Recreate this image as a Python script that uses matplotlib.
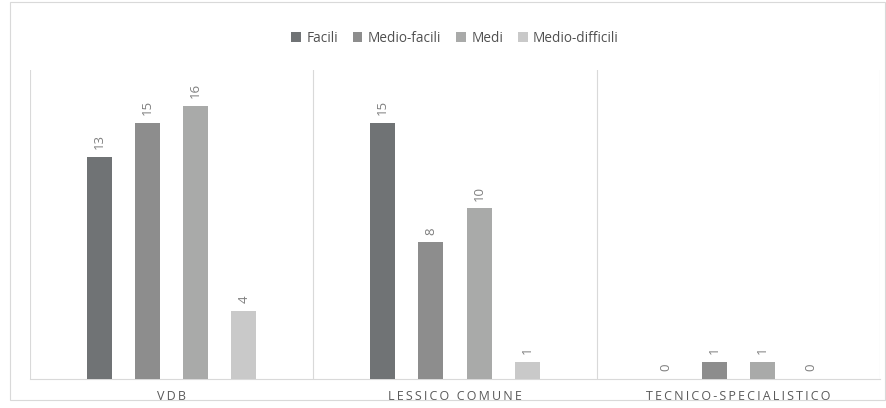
import matplotlib
matplotlib.use("Agg")
import matplotlib.pyplot as plt
import numpy as np
from matplotlib.patches import Rectangle

categories = ["VDB", "LESSICO COMUNE", "TECNICO-SPECIALISTICO"]
series = ["Facili", "Medio-facili", "Medi", "Medio-difficili"]
facili = [13, 15, 0]
medio_facili = [15, 8, 1]
medi = [16, 10, 1]
medio_difficili = [4, 1, 0]
values = [facili, medio_facili, medi, medio_difficili]
colors = ["#707375", "#8d8d8d", "#a9aaa9", "#c9c9c9"]

plt.rcParams['font.family'] = ['Open Sans', 'DejaVu Sans']

W, H = 887, 408
fig = plt.figure(figsize=(W/100, H/100), dpi=100)
# outer frame
fig.add_artist(Rectangle((10/W, 8/H), 875/W, 398/H, transform=fig.transFigure,
                         fill=False, edgecolor="#d9d9d9", linewidth=0.8))

ax = fig.add_axes([30/W, (H-379)/H, 850/W, 309/H])
n = len(categories)
x = np.arange(n)
bw = 0.088
spacing = 0.17
offsets = (np.arange(4) - 1.5) * spacing
for i, (name, vals, c) in enumerate(zip(series, values, colors)):
    bars = ax.bar(x + offsets[i], vals, width=bw, color=c, label=name, zorder=3)
    for xi, v in zip(x + offsets[i], vals):
        ax.text(xi, v + 0.45, str(v), rotation=90, ha="center", va="bottom",
                fontsize=9.5, color="#7f7f7f")

ax.set_xlim(-0.5, n - 0.5)
ax.set_ylim(0, 18.1)
ax.set_yticks([])
ax.set_xticks(x)
spaced = ["\u2009".join(list(c)) for c in categories]
ax.set_xticklabels(spaced, fontsize=9, color="#595959")
ax.tick_params(axis="x", length=0, pad=8)
for s in ["top", "right", "left"]:
    ax.spines[s].set_visible(False)
ax.spines["bottom"].set_color("#d9d9d9")
for b in [-0.5, 0.5, 1.5, 2.5]:
    ax.axvline(b, color="#d9d9d9", linewidth=0.8, zorder=1)

leg = fig.legend(loc="center", bbox_to_anchor=(455/W, (H-38)/H), ncol=4, frameon=False,
                 fontsize=9.8, handlelength=0.7, handleheight=0.7, handletextpad=0.4,
                 columnspacing=1.1, labelcolor="#505050")

fig.savefig("out.png", dpi=100)
